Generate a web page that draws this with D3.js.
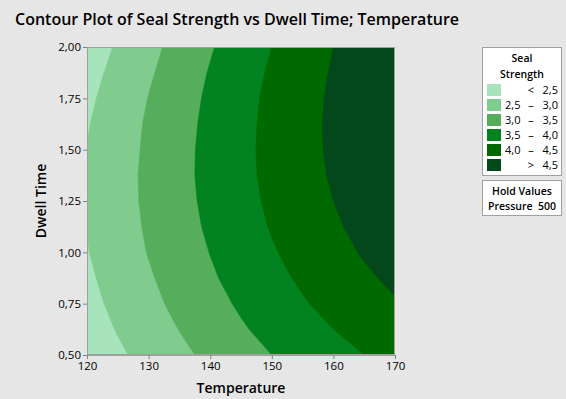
<!DOCTYPE html>
<html><head><meta charset="utf-8">
<script src="https://cdn.jsdelivr.net/npm/d3@7"></script>
<style>
html,body{margin:0;padding:0;background:#e6e6e6;}
text{font-family:"Open Sans","Noto Sans",sans-serif;fill:#000;}
</style></head>
<body>
<svg id="c" width="566" height="399"></svg>
<script>
// ---- data ----
const temperatures = [120,125,130,135,140,145,150,155,160,165,170];
const dwellTimes = [0.5,0.625,0.75,0.875,1.0,1.125,1.25,1.375,1.5,1.625,1.75,1.875,2.0];
// Seal strength estimated at each (dwell time row, temperature column)
const strength = [
 [2.15,2.42,2.66,2.89,3.11,3.31,3.50,3.68,3.85,4.00,4.15],
 [2.26,2.53,2.78,3.01,3.23,3.45,3.64,3.83,4.00,4.16,4.31],
 [2.35,2.62,2.87,3.12,3.35,3.56,3.77,3.96,4.14,4.31,4.46],
 [2.42,2.69,2.95,3.20,3.44,3.66,3.87,4.07,4.26,4.43,4.59],
 [2.48,2.75,3.02,3.27,3.51,3.74,3.96,4.16,4.36,4.54,4.70],
 [2.51,2.79,3.06,3.32,3.57,3.81,4.03,4.24,4.44,4.62,4.80],
 [2.53,2.81,3.09,3.35,3.61,3.85,4.08,4.30,4.50,4.69,4.87],
 [2.53,2.81,3.10,3.37,3.63,3.88,4.11,4.33,4.55,4.74,4.93],
 [2.51,2.79,3.08,3.36,3.63,3.88,4.13,4.36,4.57,4.78,4.97],
 [2.47,2.76,3.06,3.34,3.61,3.87,4.12,4.36,4.58,4.79,4.99],
 [2.41,2.71,3.01,3.30,3.58,3.85,4.10,4.34,4.57,4.79,4.99],
 [2.34,2.63,2.94,3.24,3.53,3.80,4.06,4.31,4.54,4.77,4.98],
 [2.25,2.55,2.86,3.17,3.46,3.74,4.00,4.26,4.50,4.73,4.94]
];
const thresholds = [2.5,3.0,3.5,4.0,4.5];
const bandColors = ["#a7e4bc","#80cc8e","#56ae5d","#02831f","#006a00","#03481a"];
const legendLow = ["", "2,5","3,0","3,5","4,0",""];
const legendSym = ["<", "–","–","–","–",">"];
const legendHigh = ["2,5","3,0","3,5","4,0","4,5","4,5"];
const xTicks = [120,130,140,150,160,170];
const yTicks = [0.5,0.75,1.0,1.25,1.5,1.75,2.0];
const titleText = "Contour Plot of Seal Strength vs Dwell Time; Temperature";
const xLabel = "Temperature";
const yLabel = "Dwell Time";
const legendTitle = ["Seal","Strength"];
const holdTitle = "Hold Values";
const holdText = "Pressure  500";

// ---- layout ----
const svg = d3.select("#c");
const P = {l:87, r:395, t:47, b:355};
const x = d3.scaleLinear().domain([120,170]).range([P.l,P.r]);
const y = d3.scaleLinear().domain([0.5,2.0]).range([P.b,P.t]);
const comma = v => d3.format(".2f")(v).replace(".",",");

svg.append("text").attr("x",15).attr("y",25).attr("font-size",17).attr("font-weight",600)
  .attr("textLength",444).attr("lengthAdjust","spacingAndGlyphs").text(titleText);

svg.append("defs").append("clipPath").attr("id","clip")
  .append("rect").attr("x",P.l).attr("y",P.t).attr("width",P.r-P.l).attr("height",P.b-P.t);

const nx = temperatures.length, ny = dwellTimes.length;
const dT = temperatures[1]-temperatures[0], dD = dwellTimes[1]-dwellTimes[0];
const flat = strength.flat();
const contours = d3.contours().size([nx,ny]).thresholds(thresholds)(flat);
const proj = d3.geoTransform({point:function(px,py){
  this.stream.point(x(temperatures[0]+dT*(px-0.5)), y(dwellTimes[0]+dD*(py-0.5)));
}});
const path = d3.geoPath(proj);
const g = svg.append("g").attr("clip-path","url(#clip)");
g.append("rect").attr("x",P.l).attr("y",P.t).attr("width",P.r-P.l).attr("height",P.b-P.t).attr("fill",bandColors[0]);
g.selectAll("path.c").data(contours).join("path").attr("class","c")
  .attr("d",path).attr("fill",(d,i)=>bandColors[i+1]).attr("stroke",(d,i)=>bandColors[i+1]).attr("stroke-width",0.5);

// frame
svg.append("rect").attr("x",P.l+0.5).attr("y",P.t+0.5).attr("width",P.r-P.l-1).attr("height",P.b-P.t-1)
  .attr("fill","none").attr("stroke","#a0a0a0");

// axes
const xa = svg.append("g").attr("transform",`translate(0,${P.b})`)
  .call(d3.axisBottom(x).tickValues(xTicks).tickSize(4).tickPadding(3).tickSizeOuter(0));
const ya = svg.append("g").attr("transform",`translate(${P.l},0)`)
  .call(d3.axisLeft(y).tickValues(yTicks).tickFormat(comma).tickSize(4).tickPadding(2).tickSizeOuter(0));
[xa,ya].forEach(a=>{
  a.select(".domain").attr("stroke","#a0a0a0");
  a.selectAll(".tick line").attr("stroke","#808080");
  a.selectAll(".tick text").attr("font-size",11.5).attr("font-family","'Open Sans',sans-serif").attr("fill","#000");
});

svg.append("text").attr("x",(P.l+P.r)/2).attr("y",393).attr("text-anchor","middle")
  .attr("font-size",14).attr("font-weight",600).text(xLabel);
svg.append("text").attr("transform",`translate(46,${(P.t+P.b)/2}) rotate(-90)`).attr("text-anchor","middle")
  .attr("font-size",14).attr("font-weight",600).text(yLabel);

// legend
const L = svg.append("g");
L.append("rect").attr("x",482.5).attr("y",47.5).attr("width",79).attr("height",128).attr("fill","#fff").attr("stroke","#a0a0a0");
legendTitle.forEach((t,i)=>L.append("text").attr("x",522).attr("y",62+i*16).attr("text-anchor","middle")
  .attr("font-size",10.5).attr("font-weight",600).text(t));
bandColors.forEach((c,i)=>{
  const yy = 84 + i*15;
  L.append("rect").attr("x",487).attr("y",yy).attr("width",14).attr("height",12).attr("fill",c);
  if(legendLow[i]) L.append("text").attr("x",505).attr("y",yy+10).attr("font-size",11).text(legendLow[i]);
  L.append("text").attr("x",531).attr("y",yy+10).attr("text-anchor","middle").attr("font-size",11).text(legendSym[i]);
  L.append("text").attr("x",558).attr("y",yy+10).attr("text-anchor","end").attr("font-size",11).text(legendHigh[i]);
});
L.append("rect").attr("x",482.5).attr("y",180.5).attr("width",79).attr("height",35).attr("fill","#fff").attr("stroke","#a0a0a0");
L.append("text").attr("x",522).attr("y",195).attr("text-anchor","middle").attr("font-size",10.5).attr("font-weight",600).text(holdTitle);
L.append("text").attr("x",522).attr("y",210).attr("text-anchor","middle").attr("font-size",10.5).attr("font-weight",600)
  .attr("xml:space","preserve").style("white-space","pre").text(holdText);
</script>
</body></html>
